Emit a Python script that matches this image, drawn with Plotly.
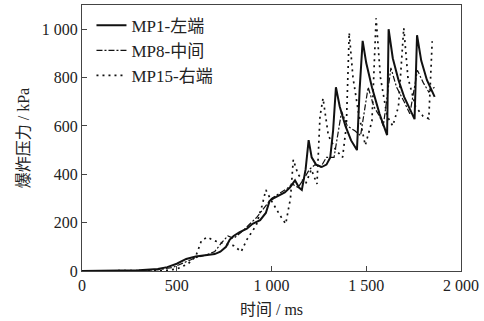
import plotly.graph_objects as go

# MP1 - left end (solid)
mp1_t = [0,100,200,300,400,450,500,550,600,650,700,730,760,780,800,830,870,900,940,970,990,1010,1045,1070,1097,1124,1145,1160,1180,1196,1212,1235,1265,1290,1310,1325,1340,1360,1390,1420,1451,1465,1481,1500,1530,1570,1610,1618,1640,1670,1700,1730,1755,1768,1790,1820,1861]
mp1_p = [0,0,1,3,8,16,30,50,60,64,70,80,100,130,145,160,175,195,210,240,290,300,315,325,345,375,345,335,420,541,470,440,430,440,470,580,760,680,600,540,500,750,952,860,760,650,562,1000,880,790,720,670,628,975,870,790,720]

# MP8 - middle (dash-dot)
mp8_t = [0,200,400,480,540,600,650,700,740,770,800,840,880,920,960,1000,1040,1080,1110,1140,1170,1200,1230,1260,1290,1330,1370,1400,1440,1470,1510,1540,1570,1590,1630,1660,1700,1730,1770,1800,1830,1860]
mp8_p = [0,0,5,15,35,55,65,80,120,145,135,160,190,220,260,300,320,340,360,345,380,420,440,430,470,470,660,600,580,560,760,680,640,600,840,760,700,650,830,780,740,760]

# MP15 - right end (dotted)
mp15_t = [0,300,450,500,560,600,630,660,700,760,800,840,870,920,950,970,1000,1045,1075,1100,1115,1140,1180,1210,1240,1256,1272,1300,1340,1375,1395,1410,1430,1460,1495,1530,1552,1575,1610,1640,1670,1698,1720,1760,1800,1830,1848]
mp15_p = [0,0,3,8,30,60,125,140,125,110,105,80,130,190,270,335,290,230,195,300,460,400,360,420,360,640,714,560,500,470,600,985,800,650,520,620,1045,800,640,600,680,1005,800,680,640,630,950]

x_tickvals = [0, 500, 1000, 1500, 2000]
x_ticktext = ["0", "500", "1 000", "1 500", "2 000"]
y_tickvals = [0, 200, 400, 600, 800, 1000]
y_ticktext = ["0", "200", "400", "600", "800", "1 000"]

FONT = "Liberation Serif, Times New Roman, Noto Sans CJK SC, serif"

fig = go.Figure()
fig.add_trace(go.Scatter(x=mp1_t, y=mp1_p, mode="lines", name="MP1-左端",
                         line=dict(color="#111", width=2)))
fig.add_trace(go.Scatter(x=mp8_t, y=mp8_p, mode="lines", name="MP8-中间",
                         line=dict(color="#111", width=1.2, dash="6px,2px,2px,2px")))
fig.add_trace(go.Scatter(x=mp15_t, y=mp15_p, mode="lines", name="MP15-右端",
                         line=dict(color="#111", width=1.7, dash="2px,4px")))

fig.update_layout(
    width=484, height=321,
    margin=dict(l=82, r=23, t=5, b=50),
    paper_bgcolor="white", plot_bgcolor="white",
    font=dict(family=FONT, size=16, color="#222"),
    showlegend=True,
    legend=dict(x=0.025, y=0.99, xanchor="left", yanchor="top",
                bgcolor="rgba(0,0,0,0)", font=dict(family=FONT, size=17, color="#222"),
                itemwidth=30, tracegroupgap=0),
)
fig.update_xaxes(range=[0, 2000], tickvals=x_tickvals, ticktext=x_ticktext,
                 ticks="inside", ticklen=5, tickcolor="#444",
                 showline=True, linecolor="#444", linewidth=1.2, mirror=True,
                 showgrid=False, zeroline=False,
                 title=dict(text="时间 / ms", font=dict(family=FONT, size=16), standoff=10))
fig.update_yaxes(range=[0, 1100], tickvals=y_tickvals, ticktext=y_ticktext,
                 ticks="inside", ticklen=5, tickcolor="#444",
                 showline=True, linecolor="#444", linewidth=1.2, mirror=True,
                 showgrid=False, zeroline=False,
                 title=dict(text="爆炸压力 / kPa", font=dict(family=FONT, size=16), standoff=8))

fig.write_html("out.html", config={"displayModeBar": False},
               post_script="document.body.style.margin='0';document.body.style.padding='0';")
